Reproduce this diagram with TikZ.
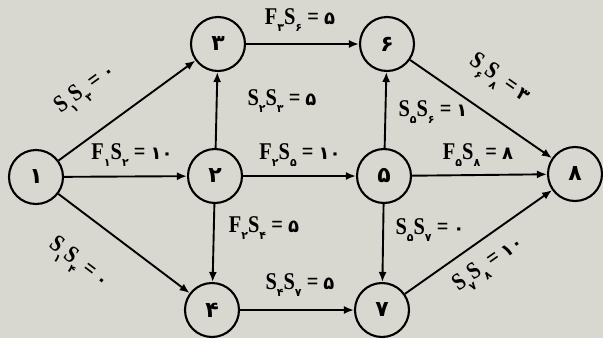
\documentclass[tikz,border=0pt]{standalone}
\usepackage{fontspec}
\setmainfont{Liberation Serif}[FakeStretch=0.85]
\newfontfamily\fa{DejaVu Sans}
\usetikzlibrary{arrows.meta}
\definecolor{bg}{RGB}{216,216,208}
\newcommand{\lsub}[1]{\raisebox{-0.7ex}{\fa\bfseries\fontsize{11}{11}\selectfont #1}}
\newcommand{\pd}[1]{{\fa\bfseries\fontsize{18}{18}\selectfont #1}}
\begin{document}
\begin{tikzpicture}[x=1pt,y=-1pt,
  state/.style={circle,draw,line width=2.1pt,minimum size=54pt,inner sep=0pt,font=\fa\bfseries\fontsize{22}{22}\selectfont},
  arr/.style={-{Latex[length=10pt,width=8pt]},line width=1.9pt},
  lab/.style={font=\bfseries\fontsize{24}{24}\selectfont,inner sep=1pt}]
\fill[bg] (0,0) rectangle (603,338);
\useasboundingbox (0,0) rectangle (603,338);
\node[state] (n1) at (36,177) {۱};
\node[state] (n2) at (215,176) {۲};
\node[state] (n3) at (218,44) {۳};
\node[state] (n4) at (212,310) {۴};
\node[state] (n5) at (384,176) {۵};
\node[state] (n6) at (387,44) {۶};
\node[state] (n7) at (382,310) {۷};
\node[state] (n8) at (575,174) {۸};
\draw[arr] (n1) -- (n3);
\draw[arr] (n1) -- (n2);
\draw[arr] (n1) -- (n4);
\draw[arr] (n2) -- (n3);
\draw[arr] (n2) -- (n5);
\draw[arr] (n2) -- (n4);
\draw[arr] (n3) -- (n6);
\draw[arr] (n4) -- (n7);
\draw[arr] (n5) -- (n6);
\draw[arr] (n5) -- (n8);
\draw[arr] (n5) -- (n7);
\draw[arr] (n6) -- (n8);
\draw[arr] (n7) -- (n8);
\node[lab,rotate=36] (l13) at (86,90) {S\lsub{۱}S\lsub{۳} = \pd{۰}};
\node[lab] (l12) at (132,155) {F\lsub{۱}S\lsub{۲} = \pd{۱۰}};
\node[lab,rotate=-37] (l14) at (78,264) {S\lsub{۱}S\lsub{۴} = \pd{۰}};
\node[lab] (l23) at (282,101) {S\lsub{۲}S\lsub{۳} = \pd{۵}};
\node[lab] (l25) at (300,155) {F\lsub{۲}S\lsub{۵} = \pd{۱۰}};
\node[lab] (l24) at (264,228) {F\lsub{۲}S\lsub{۴} = \pd{۵}};
\node[lab] (l36) at (300,20) {F\lsub{۳}S\lsub{۶} = \pd{۵}};
\node[lab] (l47) at (300,285) {S\lsub{۴}S\lsub{۷} = \pd{۵}};
\node[lab] (l56) at (433,112) {S\lsub{۵}S\lsub{۶} = \pd{۱}};
\node[lab] (l58) at (478,155) {F\lsub{۵}S\lsub{۸} = \pd{۸}};
\node[lab] (l57) at (430,230) {S\lsub{۵}S\lsub{۷} = \pd{۰}};
\node[lab,rotate=-35] (l68) at (499,80) {S\lsub{۶}S\lsub{۸} = \pd{۳}};
\node[lab,rotate=35] (l78) at (489,265) {S\lsub{۷}S\lsub{۸} = \pd{۱۰}};
\end{tikzpicture}
\end{document}
